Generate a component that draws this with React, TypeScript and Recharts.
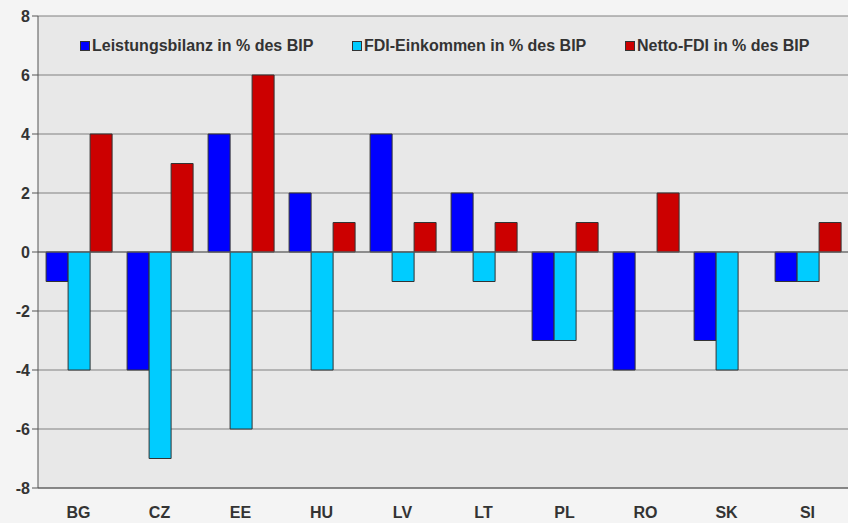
import { BarChart, Bar, XAxis, YAxis, CartesianGrid, ReferenceLine } from 'recharts';

const countries = ['BG', 'CZ', 'EE', 'HU', 'LV', 'LT', 'PL', 'RO', 'SK', 'SI'];
const leistungsbilanz = [-1, -4, 4, 2, 4, 2, -3, -4, -3, -1];
const fdiEinkommen = [-4, -7, -6, -4, -1, -1, -3, 0, -4, -1];
const nettoFdi = [4, 3, 6, 1, 1, 1, 1, 2, 0, 1];
const yTicks = [-8, -6, -4, -2, 0, 2, 4, 6, 8];

const data = countries.map((c, i) => ({
  country: c,
  lb: leistungsbilanz[i],
  fdi: fdiEinkommen[i],
  netto: nettoFdi[i],
}));

const legendItems = [
  { color: '#0000FF', label: 'Leistungsbilanz in % des BIP', x: 80 },
  { color: '#00CCFF', label: 'FDI-Einkommen in % des BIP', x: 352 },
  { color: '#CC0000', label: 'Netto-FDI in % des BIP', x: 625 },
];

export default function App() {
  return (
    <div style={{ position: 'absolute', left: 0, top: 0, width: 848, height: 523, background: '#f4f4f4', fontFamily: '"Liberation Sans", Arial, sans-serif' }}>
      <BarChart
        width={848}
        height={523}
        data={data}
        margin={{ top: 16, right: 0, bottom: 0, left: 0 }}
        barCategoryGap="10%"
        barGap={0}
      >
        <CartesianGrid vertical={false} stroke="#808080" fill="#e8e8e8" />
        <XAxis
          dataKey="country"
          axisLine={{ stroke: '#555' }}
          tickLine={false}
          height={35}
          tick={{ fill: '#333', fontSize: 16, fontWeight: 'bold' }}
          tickMargin={13}
        />
        <YAxis
          domain={[-8, 8]}
          ticks={yTicks}
          width={38}
          axisLine={{ stroke: '#555' }}
          tickLine={{ stroke: '#555' }}
          tick={{ fill: '#333', fontSize: 16, fontWeight: 'bold' }}
          interval={0}
        />
        <ReferenceLine y={0} stroke="#666" />
        <Bar dataKey="lb" fill="#0000FF" stroke="#333" strokeWidth={1} isAnimationActive={false} />
        <Bar dataKey="fdi" fill="#00CCFF" stroke="#333" strokeWidth={1} isAnimationActive={false} />
        <Bar dataKey="netto" fill="#CC0000" stroke="#333" strokeWidth={1} isAnimationActive={false} />
      </BarChart>
      {legendItems.map((item) => (
        <div
          key={item.label}
          style={{ position: 'absolute', left: item.x, top: 37, display: 'flex', alignItems: 'center', whiteSpace: 'nowrap' }}
        >
          <div style={{ width: 8, height: 8, background: item.color, border: '1px solid #333', marginRight: 2 }} />
          <span style={{ fontSize: 16, fontWeight: 'bold', color: '#333' }}>{item.label}</span>
        </div>
      ))}
    </div>
  );
}
